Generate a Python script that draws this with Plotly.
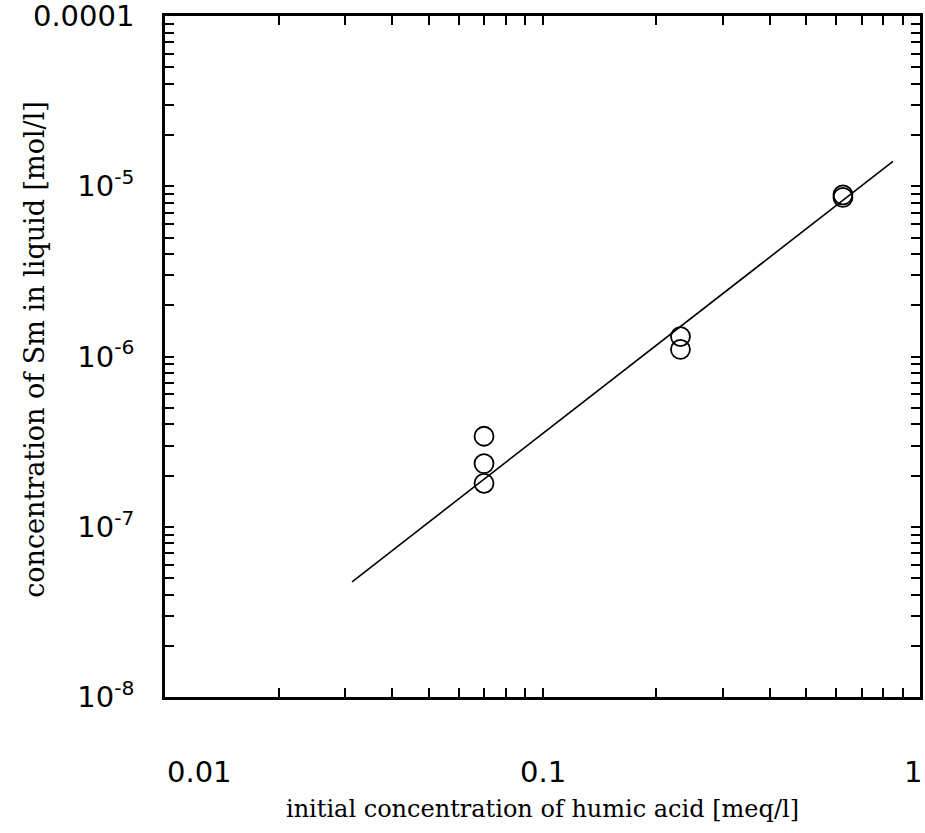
import math
import plotly.graph_objects as go

# Data
ha_conc = [0.07, 0.07, 0.07, 0.232, 0.232, 0.625, 0.625]            # meq/l
sm_conc = [3.4e-7, 2.35e-7, 1.8e-7, 1.31e-6, 1.10e-6, 8.9e-6, 8.6e-6]  # mol/l

fit_x = [0.0313, 0.848]
fit_y = [4.75e-8, 1.40e-5]

x_tickvals = [0.01, 0.1, 1]
x_ticktext = ["0.01", "0.1", "1"]
x_tickanchor = ["left", "center", "right"]
y_tickvals = [1e-8, 1e-7, 1e-6, 1e-5, 1e-4]
y_ticktext = ["10<sup>-8</sup>", "10<sup>-7</sup>", "10<sup>-6</sup>", "10<sup>-5</sup>", "0.0001"]

x_title = "initial concentration of humic acid [meq/l]"
y_title = "concentration of Sm in liquid [mol/l]"

fig = go.Figure()
fig.add_trace(go.Scatter(
    x=fit_x, y=fit_y, mode="lines",
    line=dict(color="black", width=1.6), showlegend=False, hoverinfo="skip"))
fig.add_trace(go.Scatter(
    x=ha_conc, y=sm_conc, mode="markers",
    marker=dict(symbol="circle-open", size=19, color="black", line=dict(width=1.8)),
    showlegend=False))

tickfont = dict(family="DejaVu Sans", size=29, color="black")

fig.update_xaxes(
    type="log", range=[-2, 0], automargin=False,
    tickvals=x_tickvals, showticklabels=False,
    ticks="inside", ticklen=9, tickwidth=2, tickcolor="black",
    minor=dict(ticks="inside", dtick="D1", ticklen=9, tickwidth=2, tickcolor="black", showgrid=False),
    showline=True, linewidth=2.5, linecolor="black", mirror="allticks",
    showgrid=False, zeroline=False,
    title=dict(text=x_title,
               font=dict(family="DejaVu Serif", size=24, color="black"), standoff=102),
)
fig.update_yaxes(
    type="log", range=[-8, -4], automargin=False,
    tickvals=y_tickvals, ticktext=y_ticktext,
    ticks="inside", ticklen=9, tickwidth=2, tickcolor="black",
    minor=dict(ticks="inside", dtick="D1", ticklen=9, tickwidth=2, tickcolor="black", showgrid=False),
    showline=True, linewidth=2.5, linecolor="black", mirror="allticks",
    showgrid=False, zeroline=False,
    tickfont=tickfont, ticklabelstandoff=22, ticklabeloverflow="allow",
)

# x tick labels (anchored like the reference: first left-aligned, last right-aligned)
for v, t, a in zip(x_tickvals, x_ticktext, x_tickanchor):
    fig.add_annotation(
        text=t, showarrow=False, xref="x", yref="paper",
        x=math.log10(v), y=-0.110, xanchor=a, yanchor="middle",
        xshift=4 if a == "right" else 0,
        font=tickfont,
    )

fig.add_annotation(
    text=y_title, textangle=-90, showarrow=False,
    xref="paper", yref="paper", x=-0.172, y=0.51, xanchor="center", yanchor="middle",
    font=dict(family="DejaVu Serif", size=27, color="black"),
)

fig.update_layout(
    width=925, height=833,
    margin=dict(l=165, r=5, t=16, b=136),
    paper_bgcolor="white", plot_bgcolor="white",
)

fig.write_html("out.html")
